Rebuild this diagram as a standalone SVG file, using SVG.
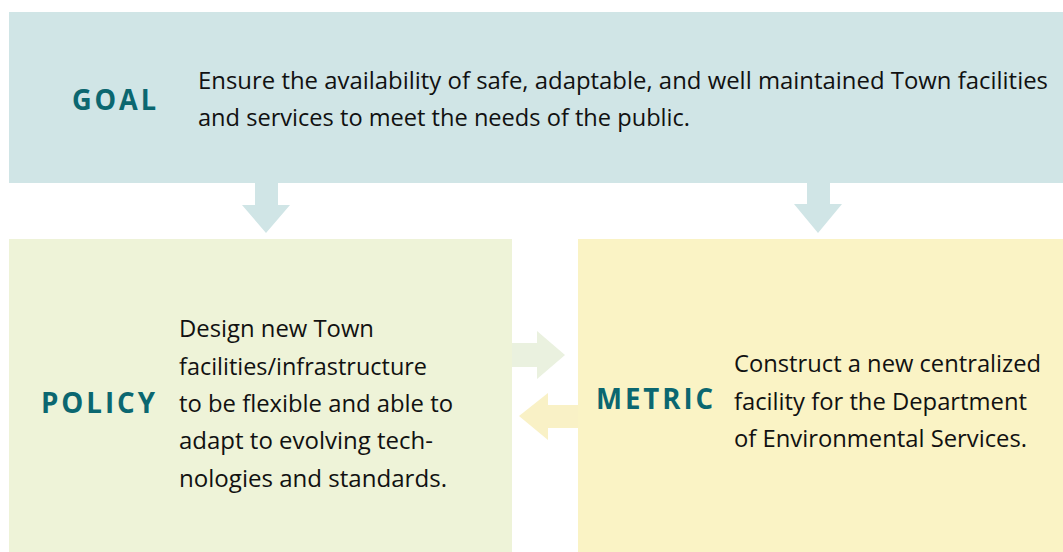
<svg xmlns="http://www.w3.org/2000/svg" width="1063" height="552" viewBox="0 0 1063 552">
<style>
.body{font-family:"Open Sans","Liberation Sans",sans-serif;font-size:23px;fill:#111111}
.label{font-family:"Open Sans","Liberation Sans",sans-serif;font-size:28px;font-weight:bold;fill:#0b6770;letter-spacing:3px}
</style>
<rect width="1063" height="552" fill="#ffffff"/>
<g id="goal">
<rect x="9" y="12" width="1054" height="171" fill="#d0e5e6"/>
<text class="label" x="72" y="110" textLength="87" lengthAdjust="spacingAndGlyphs">GOAL</text>
<text class="body" x="198" y="89" textLength="850" lengthAdjust="spacingAndGlyphs">Ensure the availability of safe, adaptable, and well maintained Town facilities</text>
<text class="body" x="198" y="126" textLength="492" lengthAdjust="spacingAndGlyphs">and services to meet the needs of the public.</text>
</g>
<g id="policy">
<rect x="9" y="239" width="503" height="313" fill="#eef3d8"/>
<text class="label" x="41" y="413" textLength="117" lengthAdjust="spacingAndGlyphs">POLICY</text>
<text class="body" x="179" y="337" textLength="195" lengthAdjust="spacingAndGlyphs">Design new Town</text>
<text class="body" x="179" y="375" textLength="248" lengthAdjust="spacingAndGlyphs">facilities/infrastructure</text>
<text class="body" x="179" y="412" textLength="274" lengthAdjust="spacingAndGlyphs">to be flexible and able to</text>
<text class="body" x="179" y="449" textLength="254" lengthAdjust="spacingAndGlyphs">adapt to evolving tech-</text>
<text class="body" x="179" y="487" textLength="268" lengthAdjust="spacingAndGlyphs">nologies and standards.</text>
</g>
<g id="metric">
<rect x="578" y="239" width="485" height="313" fill="#faf3c5"/>
<text class="label" x="596" y="409" textLength="120" lengthAdjust="spacingAndGlyphs">METRIC</text>
<text class="body" x="734" y="372" textLength="307" lengthAdjust="spacingAndGlyphs">Construct a new centralized</text>
<text class="body" x="734" y="410" textLength="293" lengthAdjust="spacingAndGlyphs">facility for the Department</text>
<text class="body" x="734" y="447" textLength="293" lengthAdjust="spacingAndGlyphs">of Environmental Services.</text>
</g>
<g id="connectors">
<polygon points="255,183 278,183 278,205 290,205 266,233 242,205 255,205" fill="#d0e5e6"/>
<polygon points="807,183 830,183 830,204 842,204 818,233 794,204 807,204" fill="#d0e5e6"/>
<polygon points="512,343 537,343 537,331 565,355 537,379 537,367 512,367" fill="#eaf1df"/>
<polygon points="578,405 548,405 548,393 519,416 548,440 548,428 578,428" fill="#f9f1c6"/>
</g>
</svg>
